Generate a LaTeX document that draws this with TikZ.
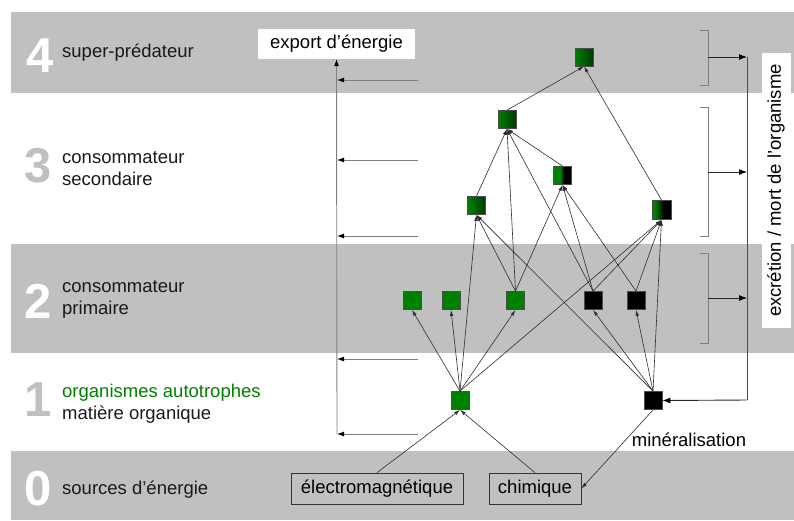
\documentclass[tikz,border=0pt]{standalone}
\usepackage{fontspec}
\setmainfont{Liberation Sans}
\usetikzlibrary{arrows.meta}
\definecolor{bandgray}{RGB}{192,192,192}
\definecolor{gr}{RGB}{0,128,0}
\definecolor{edgec}{RGB}{45,45,45}
\definecolor{linegray}{RGB}{128,128,128}
\pgfdeclarehorizontalshading{gkhalf}{100bp}{color(0bp)=(gr); color(45bp)=(gr); color(53bp)=(black); color(100bp)=(black)}
\pgfdeclarehorizontalshading{gkgrad}{100bp}{color(0bp)=(gr); color(33bp)=(gr); color(56bp)=(black); color(100bp)=(black)}
\begin{document}
\begin{tikzpicture}[x=1pt,y=-1pt,
  lbl/.style={font=\fontsize{18.5}{22}\selectfont, anchor=west, align=left, inner sep=0, text=black!90},
  dig/.style={font=\fontsize{49}{49}\selectfont\bfseries, inner sep=0},
  sq/.style={draw=black!70, minimum size=18pt, inner sep=0, line width=0.8pt},
  gsq/.style={sq, fill=gr},
  ksq/.style={sq, fill=black},
  gsh/.style={sq, left color=gr, right color=gr!45!black},
  bsh/.style={sq, shading=gkhalf},
  dsh/.style={sq, shading=gkgrad},
  src/.style={draw=black!80, line width=0.7pt, minimum height=31pt, inner sep=4pt, font=\fontsize{18.5}{22}\selectfont},
  e/.style={draw=edgec, line width=0.6pt, -{Latex[length=6pt,width=3.5pt]}},
  la/.style={draw=linegray, line width=0.9pt, -{Latex[length=7pt,width=5pt,color=black]}},
  br/.style={draw=linegray, line width=0.9pt},
  ra/.style={draw=black!85, line width=0.9pt, -{Latex[length=8pt,width=6pt,color=black]}}
]
\useasboundingbox (0,0) rectangle (794,520);
% bands
\fill[bandgray] (11,12) rectangle (794,93);
\fill[bandgray] (11,244) rectangle (794,353);
\fill[bandgray] (11,451) rectangle (794,520);
% digits
\node[dig, text=white] (d4) at (40,55.5) {4};
\node[dig, text=bandgray] (d3) at (38.5,165.5) {3};
\node[dig, text=white] (d2) at (38,301) {2};
\node[dig, text=bandgray] (d1) at (38,400) {1};
\node[dig, text=white] (d0) at (38,489) {0};
% level labels
\node[lbl] (t4) at (62,53) {super-prédateur};
\node[lbl] (t3) at (62,168.5) {consommateur\\secondaire};
\node[lbl] (t2) at (62,299) {consommateur\\primaire};
\node[lbl] (t1) at (62,404) {\textcolor{gr}{organismes autotrophes}\\matière organique};
\node[lbl] (t0) at (62,490) {sources d’énergie};
% export box
\node[fill=white, minimum width=157pt, minimum height=30pt, inner sep=0, font=\fontsize{18.5}{22}\selectfont] (exp) at (336.5,44) {export d’énergie};
% excretion box
\node[fill=white, rotate=90, minimum width=275pt, minimum height=29pt, inner sep=0, font=\fontsize{18.5}{22}\selectfont] (exc) at (776,190.5) {excrétion / mort de l'organisme};
% nodes
\node[gsh] (T) at (584,57) {};
\node[gsh] (A) at (507,119.5) {};
\node[bsh] (B) at (562.5,175.5) {};
\node[gsh] (C) at (476.5,205.5) {};
\node[dsh, minimum size=19pt] (D) at (661.5,210) {};
\node[gsq] (G2a) at (412,300.5) {};
\node[gsq] (G2b) at (451,300.5) {};
\node[gsq] (G2c) at (515.5,300.5) {};
\node[ksq] (K2a) at (593,300.5) {};
\node[ksq] (K2b) at (636,300.5) {};
\node[gsq] (G1) at (460,400.5) {};
\node[ksq] (K1) at (653,400.5) {};
\node[src, minimum width=172pt] (em) at (377,488.5) {électromagnétique};
\node[src, minimum width=92pt] (ch) at (535,488.5) {chimique};
\node[font=\fontsize{18.5}{22}\selectfont, inner sep=0] (min) at (689,440) {minéralisation};
% trophic edges
\draw[e] (em.north) -- (G1.south);
\draw[e] (ch.north) -- (G1.south);
\draw[e] (K1.south) -- (ch.east);
\foreach \t in {G2a,G2b,G2c,C,D} \draw[e] (G1.north) -- (\t.south);
\foreach \t in {K2a,K2b,D,C} \draw[e] (K1.north) -- (\t.south);
\foreach \t in {C,A,B} \draw[e] (G2c.north) -- (\t.south);
\foreach \t in {A,B,D} \draw[e] (K2a.north) -- (\t.south);
\foreach \t in {B,D} \draw[e] (K2b.north) -- (\t.south);
\draw[e] (C.north) -- (A.south);
\draw[e] (B.north) -- (A.south);
\draw[e] (A.north) -- (T.south);
\draw[e] (D.north) -- (T.south);
% left export arrows
\coordinate (vb) at (337,434);
\draw[la] (vb) -- (exp.south);
\foreach \y/\n in {80/a,160/b,236/c,359/d,434/e} {
  \coordinate (hs\n) at (418,\y);
  \coordinate (he\n) at (337,\y);
  \draw[la] (hs\n) -- (he\n);
}
% right brackets
\draw[br] (700,30) -- (708,30) -- (708,85) -- (700,85);
\draw[br] (700,107) -- (708,107) -- (708,236) -- (700,236);
\draw[br] (700,253) -- (708,253) -- (708,343) -- (700,343);
\coordinate (b4) at (708,57);
\coordinate (b3) at (708,172);
\coordinate (b2) at (708,298);
\coordinate (r4) at (747,57);
\coordinate (r3) at (747,172);
\coordinate (r2) at (747,298);
\coordinate (rb) at (747,400);
\draw[ra] (b4) -- (r4);
\draw[ra] (b3) -- (r3);
\draw[ra] (b2) -- (r2);
\draw[draw=black!70, line width=0.9pt] (r4) -- (rb);
\draw[ra] (rb) -- (K1.east);
\end{tikzpicture}
\end{document}
